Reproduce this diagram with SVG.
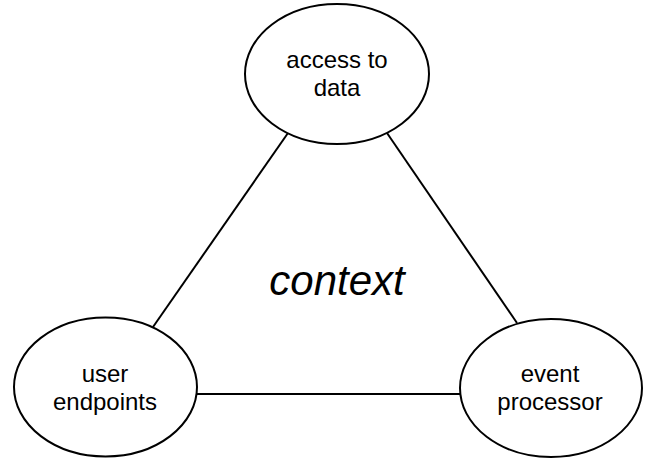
<svg xmlns="http://www.w3.org/2000/svg" width="647" height="459" viewBox="0 0 647 459">
  <style>
    .node { fill: #ffffff; stroke: #000000; stroke-width: 2; }
    .edge { stroke: #000000; stroke-width: 2; fill: none; }
    .label { font-family: "Liberation Sans", Arial, sans-serif; font-size: 24px; fill: #000000; text-anchor: middle; }
    .title { font-family: "Liberation Sans", Arial, sans-serif; font-size: 42px; font-style: italic; fill: #000000; text-anchor: middle; }
  </style>
  <rect width="647" height="459" fill="#ffffff"/>
  <g id="connectors">
    <line class="edge" x1="288" y1="133" x2="153" y2="327"/>
    <line class="edge" x1="387" y1="133" x2="517" y2="323"/>
    <line class="edge" x1="197" y1="394" x2="460" y2="394"/>
  </g>
  <g id="access-to-data">
    <ellipse class="node" cx="337" cy="74" rx="92" ry="70"/>
    <text class="label" x="337" y="68">access to</text>
    <text class="label" x="337" y="96">data</text>
  </g>
  <g id="user-endpoints">
    <ellipse class="node" cx="105.5" cy="387" rx="91.5" ry="69.5"/>
    <text class="label" x="105" y="382">user</text>
    <text class="label" x="105" y="410">endpoints</text>
  </g>
  <g id="event-processor">
    <ellipse class="node" cx="551" cy="388" rx="91" ry="69"/>
    <text class="label" x="550" y="382">event</text>
    <text class="label" x="550" y="410">processor</text>
  </g>
  <text class="title" x="337" y="295">context</text>
</svg>
